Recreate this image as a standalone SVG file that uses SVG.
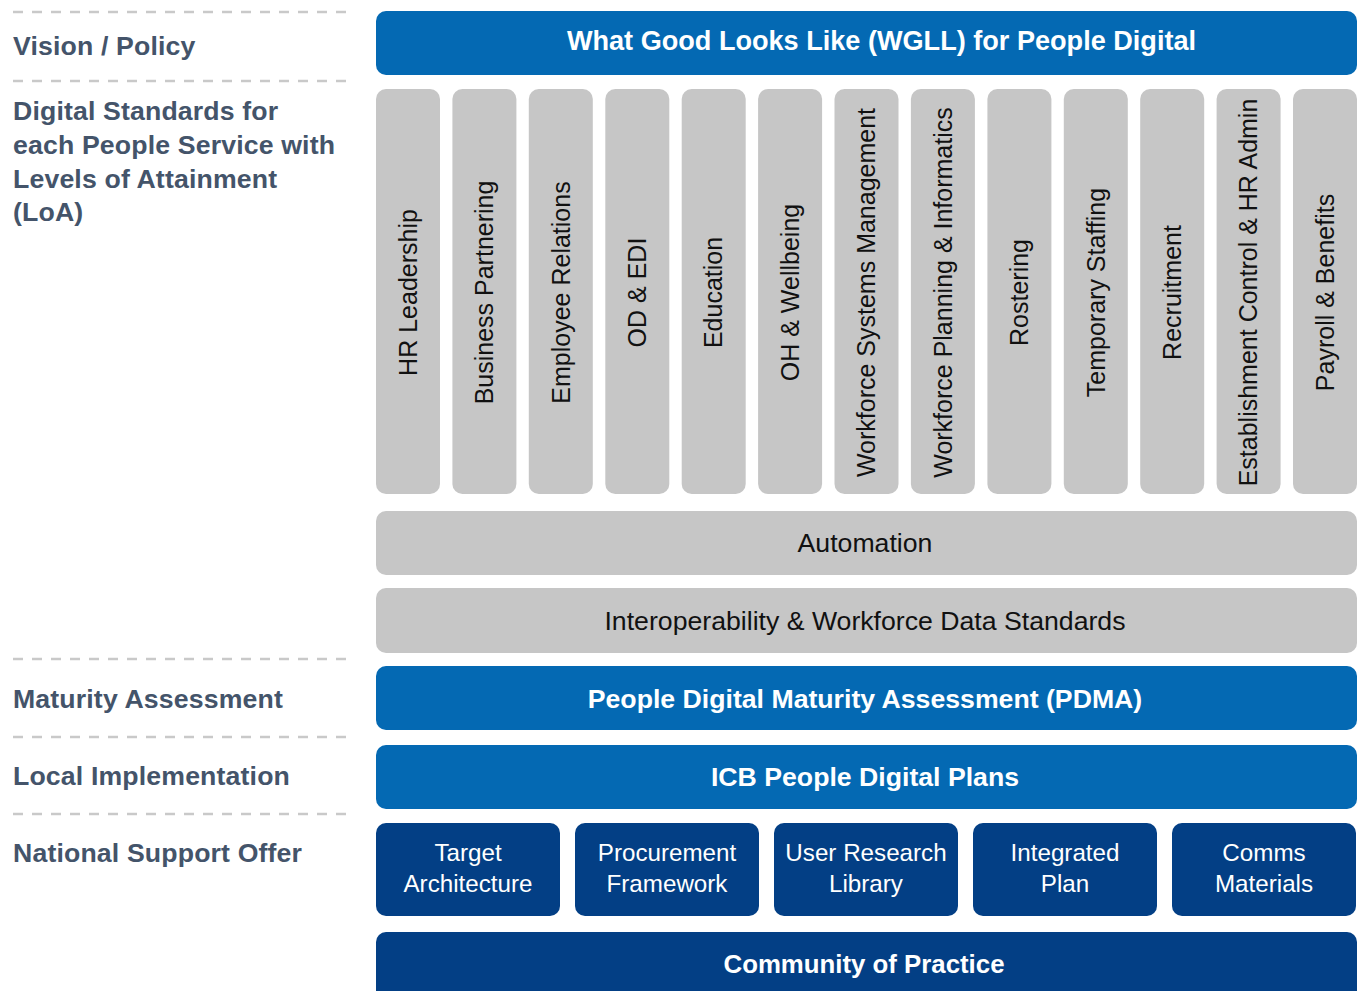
<svg xmlns="http://www.w3.org/2000/svg" width="1361" height="991" viewBox="0 0 1361 991">
<style>
.dash{stroke:#c9c9c9;stroke-width:2.6;stroke-dasharray:10 9;fill:none}
.lbl{font-family:"Liberation Sans",Arial,sans-serif;font-weight:bold;font-size:26.67px;letter-spacing:0.15px;fill:#44546a}
.blue{fill:#0469b3}
.navy{fill:#033f85}
.gray{fill:#c6c6c6}
.wb{font-family:"Liberation Sans",Arial,sans-serif;font-weight:bold;font-size:26.67px;fill:#ffffff;text-anchor:middle}
.wr{font-family:"Liberation Sans",Arial,sans-serif;font-size:24.2px;fill:#ffffff;text-anchor:middle}
.gt{font-family:"Liberation Sans",Arial,sans-serif;font-size:26.67px;fill:#111111;text-anchor:middle}
.vt{font-family:"Liberation Sans",Arial,sans-serif;font-size:25px;fill:#111111;text-anchor:middle}
</style>
<rect width="1361" height="991" fill="#ffffff"/>
<g id="left-labels">
<line class="dash" x1="13" y1="12" x2="347" y2="12"/>
<line class="dash" x1="13" y1="81" x2="347" y2="81"/>
<line class="dash" x1="13" y1="659" x2="347" y2="659"/>
<line class="dash" x1="13" y1="737" x2="347" y2="737"/>
<line class="dash" x1="13" y1="814" x2="347" y2="814"/>
<text class="lbl" x="13" y="55">Vision / Policy</text>
<text class="lbl" x="13" y="120">Digital Standards for</text>
<text class="lbl" x="13" y="154">each People Service with</text>
<text class="lbl" x="13" y="188">Levels of Attainment</text>
<text class="lbl" x="13" y="221">(LoA)</text>
<text class="lbl" x="13" y="708">Maturity Assessment</text>
<text class="lbl" x="13" y="785">Local Implementation</text>
<text class="lbl" x="13" y="862">National Support Offer</text>
</g>
<g id="wgll">
<rect class="blue" x="376" y="11" width="981" height="64" rx="10"/>
<text class="wb" x="881.5" y="50" style="font-size:27.1px">What Good Looks Like (WGLL) for People Digital</text>
</g>
<g id="standards">
<g id="col1"><rect class="gray" x="376" y="89" width="64" height="405" rx="10"/><text class="vt" transform="translate(416.7,292.5) rotate(-90)">HR Leadership</text></g>
<g id="col2"><rect class="gray" x="452.4" y="89" width="64" height="405" rx="10"/><text class="vt" transform="translate(493.1,292.5) rotate(-90)">Business Partnering</text></g>
<g id="col3"><rect class="gray" x="528.8" y="89" width="64" height="405" rx="10"/><text class="vt" transform="translate(569.5,292.5) rotate(-90)">Employee Relations</text></g>
<g id="col4"><rect class="gray" x="605.3" y="89" width="64" height="405" rx="10"/><text class="vt" transform="translate(646,292.5) rotate(-90)">OD &amp; EDI</text></g>
<g id="col5"><rect class="gray" x="681.7" y="89" width="64" height="405" rx="10"/><text class="vt" transform="translate(722.4,292.5) rotate(-90)">Education</text></g>
<g id="col6"><rect class="gray" x="758.1" y="89" width="64" height="405" rx="10"/><text class="vt" transform="translate(798.8,292.5) rotate(-90)">OH &amp; Wellbeing</text></g>
<g id="col7"><rect class="gray" x="834.5" y="89" width="64" height="405" rx="10"/><text class="vt" transform="translate(875.2,292.5) rotate(-90)">Workforce Systems Management</text></g>
<g id="col8"><rect class="gray" x="910.9" y="89" width="64" height="405" rx="10"/><text class="vt" transform="translate(951.6,292.5) rotate(-90)">Workforce Planning &amp; Informatics</text></g>
<g id="col9"><rect class="gray" x="987.4" y="89" width="64" height="405" rx="10"/><text class="vt" transform="translate(1028.1,292.5) rotate(-90)">Rostering</text></g>
<g id="col10"><rect class="gray" x="1063.8" y="89" width="64" height="405" rx="10"/><text class="vt" transform="translate(1104.5,292.5) rotate(-90)">Temporary Staffing</text></g>
<g id="col11"><rect class="gray" x="1140.2" y="89" width="64" height="405" rx="10"/><text class="vt" transform="translate(1180.9,292.5) rotate(-90)">Recruitment</text></g>
<g id="col12"><rect class="gray" x="1216.6" y="89" width="64" height="405" rx="10"/><text class="vt" transform="translate(1257.3,292.5) rotate(-90)">Establishment Control &amp; HR Admin</text></g>
<g id="col13"><rect class="gray" x="1293" y="89" width="64" height="405" rx="10"/><text class="vt" transform="translate(1333.7,292.5) rotate(-90)">Payroll &amp; Benefits</text></g>
</g>
<g id="automation">
<rect class="gray" x="376" y="511" width="981" height="64" rx="10"/>
<text class="gt" x="865" y="552">Automation</text>
</g>
<g id="interop">
<rect class="gray" x="376" y="588" width="981" height="65" rx="10"/>
<text class="gt" x="865" y="630">Interoperability &amp; Workforce Data Standards</text>
</g>
<g id="pdma">
<rect class="blue" x="376" y="666" width="981" height="64" rx="10"/>
<text class="wb" x="865" y="708">People Digital Maturity Assessment (PDMA)</text>
</g>
<g id="icb">
<rect class="blue" x="376" y="745" width="981" height="64" rx="10"/>
<text class="wb" x="865" y="786">ICB People Digital Plans</text>
</g>
<g id="target"><rect class="navy" x="376" y="823" width="184" height="93" rx="10"/><text class="wr" x="468" y="861">Target</text><text class="wr" x="468" y="892">Architecture</text></g>
<g id="procurement"><rect class="navy" x="575" y="823" width="184" height="93" rx="10"/><text class="wr" x="667" y="861">Procurement</text><text class="wr" x="667" y="892">Framework</text></g>
<g id="research"><rect class="navy" x="774" y="823" width="184" height="93" rx="10"/><text class="wr" x="866" y="861">User Research</text><text class="wr" x="866" y="892">Library</text></g>
<g id="integrated"><rect class="navy" x="973" y="823" width="184" height="93" rx="10"/><text class="wr" x="1065" y="861">Integrated</text><text class="wr" x="1065" y="892">Plan</text></g>
<g id="comms"><rect class="navy" x="1172" y="823" width="184" height="93" rx="10"/><text class="wr" x="1264" y="861">Comms</text><text class="wr" x="1264" y="892">Materials</text></g>
<g id="community">
<rect class="navy" x="376" y="932" width="981" height="80" rx="10"/>
<text class="wb" x="864" y="973" style="font-size:25.8px">Community of Practice</text>
</g>
<g id="connectors"></g>
</svg>
